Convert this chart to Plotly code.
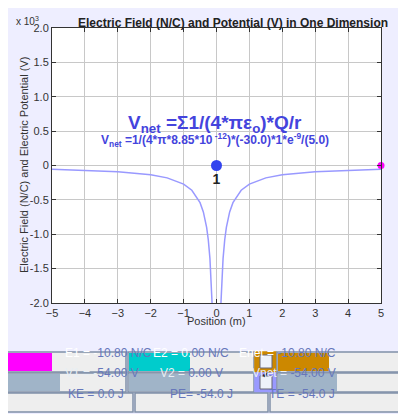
import plotly.graph_objects as go

x_left = [-5, -4, -3, -2, -1.5, -1, -0.75, -0.5, -0.4, -0.3, -0.25, -0.2, -0.16, -0.135]
v_left = [-0.054, -0.0675, -0.09, -0.135, -0.18, -0.27, -0.36, -0.54, -0.675, -0.9, -1.08, -1.35, -1.69, -2.0]
x_right = [0.135, 0.16, 0.2, 0.25, 0.3, 0.4, 0.5, 0.75, 1, 1.5, 2, 3, 4, 5]
v_right = [-2.0, -1.69, -1.35, -1.08, -0.9, -0.675, -0.54, -0.36, -0.27, -0.18, -0.135, -0.09, -0.0675, -0.054]
charge_x = [0]
charge_y = [0]
charge_labels = ["1"]
probe_x = [5]
probe_y = [0]
x_ticks = [-5, -4, -3, -2, -1, 0, 1, 2, 3, 4, 5]
y_ticks = [-2.0, -1.5, -1.0, -0.5, 0, 0.5, 1.0, 1.5, 2.0]
y_tick_text = ["-2.0", "-1.5", "-1.0", "-0.5", "0", "0.5", "1.0", "1.5", "2.0"]

OFF = 8  # page body margin
L, R, T, B = 52, 381, 28, 303
W, H = 406 - OFF, 414 - OFF
def px(xp): return (xp - L) / (R - L)
def py(yp): return (B - yp) / (B - T)

fig = go.Figure()
line = dict(color="#9999ff", width=1.5)
fig.add_trace(go.Scatter(x=x_left, y=v_left, mode="lines", line=line, hoverinfo="skip"))
fig.add_trace(go.Scatter(x=x_right, y=v_right, mode="lines", line=line, hoverinfo="skip"))
fig.add_trace(go.Scatter(x=charge_x, y=charge_y, mode="markers+text", text=["<b>1</b>"],
                         textposition="bottom center", textfont=dict(size=14, color="#222", family="Arial"),
                         marker=dict(size=11, color="#3344ee"), cliponaxis=False))
fig.add_trace(go.Scatter(x=probe_x, y=probe_y, mode="markers", marker=dict(size=7, color="#ff00ff"), cliponaxis=False))

shapes = []
ann = []
font_lbl = dict(family="Arial", size=12, color="#6677bb")
def box(x0, y0, x1, y1, fill, line_c="#8090a8", lw=1.5):
    shapes.append(dict(type="rect", xref="paper", yref="paper", x0=px(x0), x1=px(x1), y0=py(y1), y1=py(y0),
                       fillcolor=fill, line=dict(color=line_c, width=lw), layer="above"))
def text(xc, yc, t, color="#6677bb", size=12, **kw):
    ann.append(dict(xref="paper", yref="paper", x=px(xc), y=py(yc), text=t, showarrow=False,
                    font=dict(family="Arial", size=size, color=color), **kw))

# row 1
box(0, 352, 126, 372, "#eeeeee"); box(1, 353, 52, 371, "#ff00ff", line_c="#ff00ff", lw=0)
text(63, 362, "<span style='color:white'>E1 = -</span>10.80 N/C")
box(128, 352, 254, 372, "#eeeeee"); box(129, 353, 190, 371, "#00cccc", line_c="#00cccc", lw=0)
text(191, 362, "<span style='color:white'>E2 = 0.</span>00 N/C")
box(255, 352, 276, 372, "#cc8800", line_c="#cc8800")
box(260, 355, 272, 368, "#eef2fa", line_c="#667", lw=1)
box(277, 352, 399, 372, "#eeeeee"); box(278, 353, 329, 371, "#cc8800", line_c="#cc8800", lw=0)
text(338, 362, "<span style='color:white'>Enet = </span>-10.80 N/C")
# row 2
box(0, 373, 126, 392, "#eeeeee"); box(1, 374, 60, 391, "#a0b4c8", line_c="#a0b4c8", lw=0)
text(63, 382, "<span style='color:#e8eef4'>V1 = -</span>54.00 V")
box(128, 373, 254, 392, "#eeeeee"); box(129, 374, 190, 391, "#a0b4c8", line_c="#a0b4c8", lw=0)
text(191, 382, "<span style='color:#e8eef4'>V2 = </span>0.00 V")
box(255, 373, 276, 392, "#9999ff", line_c="#9999ff")
box(260, 376, 272, 389, "#eef2fa", line_c="#667", lw=1)
text(266, 382, "✔", color="#111", size=10)
box(277, 373, 399, 392, "#eeeeee"); box(278, 374, 337, 391, "#a0b4c8", line_c="#a0b4c8", lw=0)
text(338, 382, "<span style='color:#e8eef4'>Vnet = </span>-54.00 V")
# row 3
box(0, 393, 133, 412, "#eeeeee"); text(66, 403, "KE = 0.0 J")
box(135, 393, 268, 412, "#eeeeee"); text(201, 403, "PE= -54.0 J")
box(270, 393, 404, 412, "#eeeeee"); text(337, 403, "TE = -54.0 J")

# titles
text(233, 14, "<b>Electric Field (N/C) and Potential (V) in One Dimension</b>", color="#222", size=12)
text(14, 13, "x 10<sup>3</sup>", color="#333", size=10)
ann.append(dict(xref="paper", yref="paper", x=px(16), y=py(165), text="Electric Field (N/C) and Electric Potential (V)",
                textangle=-90, showarrow=False, font=dict(family="Arial", size=11, color="#333")))
text(216, 329, "Position (m)", color="#333", size=11)
text(215, 110, "<b>V<sub>net</sub> =Σ1/(4*πε<sub>o</sub>)*Q/r</b>", color="#4444dd", size=19)
text(215, 140, "<b>V<sub>net</sub> =1/(4*π*8.85*10<sup> -12</sup>)*(-30.0)*1*e<sup>-9</sup>/(5.0)</b>", color="#4444dd", size=12)

axis_common = dict(showgrid=True, gridcolor="#c8c8c8", gridwidth=1, zeroline=False, showline=True,
                   linecolor="#333", linewidth=1, mirror="allticks", ticks="inside", ticklen=4,
                   tickcolor="#333", tickfont=dict(family="Arial", size=11, color="#333"))
fig.update_layout(
    width=W, height=H, margin=dict(l=L - OFF, r=W - (R - OFF), t=T - OFF, b=H - (B - OFF)),
    paper_bgcolor="#eeeeff", plot_bgcolor="white", showlegend=False,
    xaxis=dict(range=[-5, 5], tickvals=x_ticks, **axis_common),
    yaxis=dict(range=[-2.0, 2.0], tickvals=y_ticks, ticktext=y_tick_text, **axis_common),
    shapes=shapes, annotations=ann,
)
fig.write_html("out.html")
